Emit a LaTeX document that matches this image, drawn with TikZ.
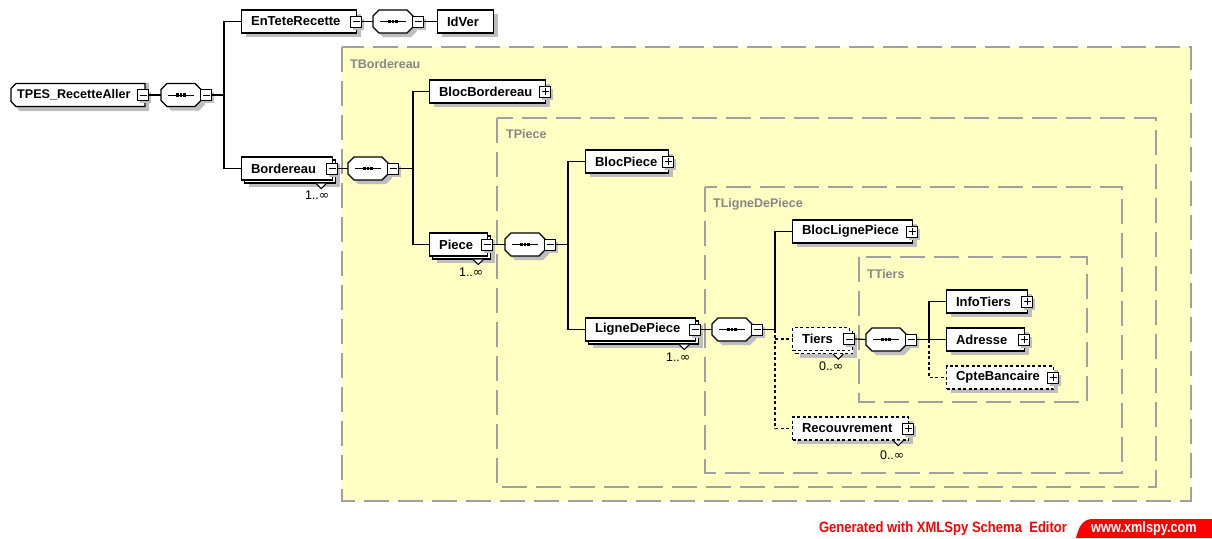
\documentclass[tikz,border=0pt]{standalone}
\usepackage{fontspec}
\setmainfont{Liberation Sans}
\newfontfamily\djv{DejaVu Sans}
\usetikzlibrary{shadows}
\definecolor{ybg}{HTML}{FFFFC4}
\definecolor{cborder}{HTML}{A0A0A0}
\definecolor{clabel}{HTML}{868686}
\definecolor{shgray}{HTML}{BEBEBE}
\definecolor{xred}{HTML}{FF0000}
\tikzset{
  ebase/.style={draw=black, fill=white, line width=1.2pt, inner sep=0pt, inner xsep=9.5pt,
    minimum height=23pt, anchor=west, font=\bfseries\fontsize{13}{15}\selectfont},
  sh/.style={general shadow={fill=shgray, draw=none, solid, shadow xshift=4pt, shadow yshift=-4pt}},
  elem/.style={ebase, rectangle, sh},
  opt/.style={dash pattern=on 3pt off 2.5pt},
  multi/.style={ebase, rectangle,
    general shadow={fill=shgray, draw=none, solid, shadow xshift=7pt, shadow yshift=-7pt},
    general shadow={draw=black, fill=white, line width=1.2pt, shadow xshift=3pt, shadow yshift=-3pt}},
  pmbox/.style={rectangle, draw=black, fill=white, solid, line width=1pt, minimum size=11pt, inner sep=0pt,
    general shadow={fill=shgray, draw=none, shadow xshift=2.5pt, shadow yshift=-2.5pt}},
  minus/.style={pmbox, path picture={\draw[black, line width=1pt] ([xshift=2pt]path picture bounding box.west) -- ([xshift=-2pt]path picture bounding box.east);}},
  plus/.style={pmbox, path picture={\draw[black, line width=1pt] ([xshift=2pt]path picture bounding box.west) -- ([xshift=-2pt]path picture bounding box.east) ([yshift=2pt]path picture bounding box.south) -- ([yshift=-2pt]path picture bounding box.north);}},
  seqbox/.style={rectangle, draw=none, fill=none, minimum width=40pt, minimum height=23pt, inner sep=0pt, anchor=west},
  seqline/.style={draw=black, fill=white, line width=1.2pt},
  container/.style={fill=ybg, draw=cborder, line width=1.6pt, dash pattern=on 25pt off 9pt},
  clab/.style={anchor=west, text=clabel, font=\bfseries\fontsize{12.5}{14}\selectfont, inner sep=0pt},
  conn/.style={draw=black, line width=1.2pt},
  mult/.style={font=\fontsize{12.5}{14}\selectfont, inner sep=0pt},
  notch/.style={fill=white, draw=black, line width=1pt},
}
\newcommand\xelem[6][elem]{\node[#1, minimum width={(#5)-(#3)}] (#2) at (#3,#4) {\makebox[\dimexpr #5pt-#3pt-19pt\relax][l]{#6}};}
\newcommand\seqnode[3]{%
  \begin{scope}[shift={(#2+4,#3+4)}]
    \fill[shgray] (0,-5.5) -- (6,-11.5) -- (34,-11.5) -- (40,-5.5) -- (40,5.5) -- (34,11.5) -- (6,11.5) -- (0,5.5) -- cycle;
  \end{scope}
  \begin{scope}[shift={(#2,#3)}]
    \filldraw[seqline] (0,-5.5) -- (6,-11.5) -- (34,-11.5) -- (40,-5.5) -- (40,5.5) -- (34,11.5) -- (6,11.5) -- (0,5.5) -- cycle;
    \draw[black, line width=1pt] (7,0) -- (33,0);
    \fill[black] (15.4,-1.7) rectangle (18.2,1.7);
    \fill[black] (18.8,-1.7) rectangle (21.2,1.7);
    \fill[black] (21.8,-1.7) rectangle (24.6,1.7);
  \end{scope}
  \node[seqbox] (#1) at (#2,#3) {};
  \node[minus, anchor=west] (#1-m) at ([xshift=-1pt]#1.east) {};}
\begin{document}
\begin{tikzpicture}[x=1pt,y=-1pt]
\useasboundingbox (0,0) rectangle (1212,538);
\fill[white] (0,0) rectangle (1212,538);
% containers
\draw[container] (342,47) rectangle (1191,501);
\node[clab] (lab-tbord) at (350,64) {TBordereau};
\draw[container] (497,118) rectangle (1156,487);
\node[clab] (lab-tpiece) at (506,134) {TPiece};
\draw[container] (705,187) rectangle (1122,473);
\node[clab] (lab-tligne) at (713,204) {TLigneDePiece};
\draw[container] (859,257) rectangle (1087,402);
\node[clab] (lab-ttiers) at (867,274) {TTiers};
% root (chamfered left corners)
\fill[shgray] (15,90) -- (20,83) -- (149,83) -- (149,111) -- (20,111) -- (15,106) -- cycle;
\filldraw[seqline] (11,88.5) -- (16,83.5) -- (145,83.5) -- (145,106.5) -- (16,106.5) -- (11,101.5) -- cycle;
\node[rectangle, draw=none, fill=none, inner sep=0pt, inner xsep=6pt, minimum height=23pt, anchor=west,
  font=\bfseries\fontsize{12.6}{15}\selectfont] (root) at (11,95) {\makebox[122pt][l]{TPES\_RecetteAller}};
\node[minus] (root-m) at ([xshift=-2pt]root.east) {};
\seqnode{c1}{161}{95}
% level 1
\xelem{entete}{241}{21.5}{356}{EnTeteRecette}
\node[minus] (entete-m) at ([xshift=-1pt]entete.east) {};
\seqnode{c2}{373}{21.5}
\xelem{idver}{437}{21.5}{493}{IdVer}
\xelem[multi]{bord}{241}{168.5}{332}{Bordereau}
\node[minus] (bord-m) at ([xshift=-1pt]bord.east) {};
\seqnode{c3}{348}{168.5}
% level 2
\xelem{blocbord}{429}{91.5}{545}{BlocBordereau}
\node[plus] (blocbord-p) at ([xshift=-1pt]blocbord.east) {};
\xelem[multi]{piece}{429}{244.5}{487}{Piece}
\node[minus] (piece-m) at ([xshift=-1pt]piece.east) {};
\seqnode{c4}{505}{244.5}
% level 3
\xelem{blocpiece}{585}{161.5}{668}{BlocPiece}
\node[plus] (blocpiece-p) at ([xshift=-1pt]blocpiece.east) {};
\xelem[multi]{ligne}{585}{329.5}{695}{LigneDePiece}
\node[minus] (ligne-m) at ([xshift=-1pt]ligne.east) {};
\seqnode{c5}{712}{329.5}
% level 4
\xelem{bloclp}{792}{231.5}{912}{BlocLignePiece}
\node[plus] (bloclp-p) at ([xshift=-1pt]bloclp.east) {};
\xelem[multi, opt, general shadow={draw=black, fill=white, line width=1.2pt, opt, shadow xshift=3pt, shadow yshift=-3pt}]{tiers}{792}{339}{849}{Tiers}
\node[minus] (tiers-m) at ([xshift=-1pt]tiers.east) {};
\seqnode{c6}{866}{339.5}
\xelem[elem, opt]{recouv}{792}{428.5}{908}{Recouvrement}
\node[plus] (recouv-p) at ([xshift=-1pt]recouv.east) {};
% level 5
\xelem{infotiers}{946}{301.5}{1027}{InfoTiers}
\node[plus] (infotiers-p) at ([xshift=-1pt]infotiers.east) {};
\xelem{adresse}{946}{339.5}{1024}{Adresse}
\node[plus] (adresse-p) at ([xshift=-1pt]adresse.east) {};
\xelem[elem, opt]{cpte}{946}{377.5}{1053}{CpteBancaire}
\node[plus] (cpte-p) at ([xshift=-1pt]cpte.east) {};
% trunk points
\coordinate (t1) at (224,95);
\coordinate (t3) at (413,168.5);
\coordinate (t4) at (568,244.5);
\coordinate (t5) at (775,329.5);
\coordinate (t6) at (929,339.5);
% connectors
\draw[conn] (root-m.east) -- (c1.west);
\draw[conn] (c1-m.east) -- (t1);
\draw[conn] (entete.west) -| (t1) |- (bord.west);
\draw[conn] (entete-m.east) -- (c2.west);
\draw[conn] (c2-m.east) -- (idver.west);
\draw[conn] (bord-m.east) -- (c3.west);
\draw[conn] (c3-m.east) -- (t3);
\draw[conn] (blocbord.west) -| (t3) |- (piece.west);
\draw[conn] (piece-m.east) -- (c4.west);
\draw[conn] (c4-m.east) -- (t4);
\draw[conn] (blocpiece.west) -| (t4) |- (ligne.west);
\draw[conn] (ligne-m.east) -- (c5.west);
\draw[conn] (c5-m.east) -- (t5);
\draw[conn] (bloclp.west) -| (t5);
\draw[conn, opt] (t5) -- (t5 |- recouv.west) -- (recouv.west);
\draw[conn, opt] (t5 |- tiers.west) -- (tiers.west);
\draw[conn] (tiers-m.east) -- (c6.west);
\draw[conn] (c6-m.east) -- (t6);
\draw[conn] (infotiers.west) -| (t6) -- (adresse.west);
\draw[conn, opt] (t6) |- (cpte.west);
% occurrence marks
\draw[notch] ([shift={(-17,3)}]bord.south east) -- ++(5,5) -- ++(5,-5);
\node[mult] (bord-n) at ([shift={(-16,15)}]bord.south east) {1..{\djv ∞}};
\draw[notch] ([shift={(-15,3)}]piece.south east) -- ++(5,5) -- ++(5,-5);
\node[mult] (piece-n) at ([shift={(-17,16)}]piece.south east) {1..{\djv ∞}};
\draw[notch] ([shift={(-17,3)}]ligne.south east) -- ++(5,5) -- ++(5,-5);
\node[mult] (ligne-n) at ([shift={(-18,16)}]ligne.south east) {1..{\djv ∞}};
\draw[notch] ([shift={(-17,3)}]tiers.south east) -- ++(5,5) -- ++(5,-5);
\node[mult] (tiers-n) at ([shift={(-19,15)}]tiers.south east) {0..{\djv ∞}};
\draw[notch] ([shift={(-16,0)}]recouv.south east) -- ++(5,5) -- ++(5,-5);
\node[mult] (recouv-n) at ([shift={(-17,15)}]recouv.south east) {0..{\djv ∞}};
% footer
\fill[xred] (1076,538) .. controls (1079,526) and (1083,519) .. (1093,519) -- (1212,519) -- (1212,538) -- cycle;
\node[text=white, font=\bfseries\fontsize{15}{15}\selectfont, inner sep=0pt] (www) at (1144,528.5) {\scalebox{0.85}[1]{www.xmlspy.com}};
\node[text=xred, font=\bfseries\fontsize{15}{15}\selectfont, inner sep=0pt] (gen) at (943,528.5) {\scalebox{0.87}[1]{Generated with XMLSpy Schema\ \ Editor}};
\end{tikzpicture}
\end{document}
